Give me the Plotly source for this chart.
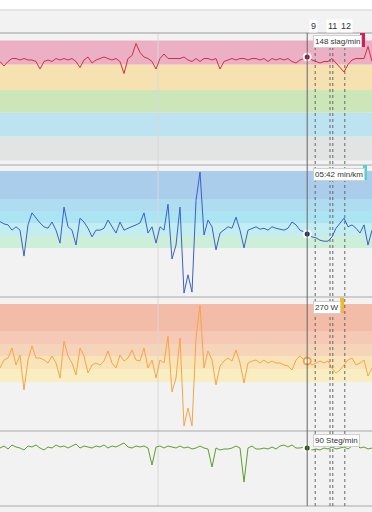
import plotly.graph_objects as go

FIG_W, FIG_H = 372, 512
SAMPLE_MIN = 0.5          # minutes between samples
X_MAX = 46.5              # minutes shown

# ---------------- data ----------------
hr_bpm = [145, 142, 145, 147, 147, 146, 147, 146, 146, 145,
          140, 145, 146, 145, 147, 146, 147, 146, 147, 145,
          141, 146, 148, 144, 146, 147, 148, 147, 146, 147,
          145, 137, 147, 149, 157, 151, 148, 147, 145, 140,
          147, 150, 147, 147, 147, 147, 148, 146, 145, 147,
          145, 147, 147, 146, 147, 140, 145, 146, 147, 146,
          147, 147, 146, 147, 147, 146, 147, 145, 147, 146,
          147, 146, 147, 145, 144, 146, 147, 148, 146, 145,
          144, 145, 145, 147, 144, 141, 138, 143, 146, 147,
          147, 147, 155, 145]

pace_min_km = [5.44, 5.49, 5.51, 5.62, 5.55, 5.62, 6.16, 5.51, 5.26, 5.37,
               5.47, 5.55, 5.58, 5.45, 5.62, 5.89, 5.14, 5.55, 5.62, 5.93,
               5.37, 5.45, 5.58, 5.76, 5.62, 5.62, 5.58, 5.41, 5.55, 5.68,
               5.45, 5.62, 5.58, 5.55, 5.51, 5.47, 5.26, 5.68, 5.55, 5.89,
               5.55, 5.62, 5.08, 6.22, 5.93, 5.14, 6.93, 6.55, 6.91, 5.00,
               4.41, 5.72, 5.41, 5.55, 6.03, 5.68, 5.62, 5.55, 5.58, 5.35,
               5.62, 5.99, 5.62, 5.58, 5.55, 5.60, 5.58, 5.62, 5.55, 5.58,
               5.60, 5.62, 5.58, 5.45, 5.51, 5.62, 5.66, 5.72, 5.76, 5.78,
               5.83, 5.85, 5.85, 5.76, 5.58, 5.47, 5.37, 5.55, 5.51, 5.58,
               5.68, 5.51, 5.93, 5.62]

power_w = [256, 272, 276, 296, 262, 282, 212, 272, 300, 276,
           276, 272, 266, 280, 266, 236, 310, 280, 266, 242,
           296, 280, 246, 262, 266, 262, 270, 290, 266, 256,
           282, 270, 276, 292, 272, 270, 296, 256, 272, 236,
           272, 266, 320, 208, 236, 316, 140, 176, 140, 316,
           382, 256, 290, 272, 222, 260, 270, 276, 270, 292,
           266, 226, 266, 270, 272, 266, 272, 266, 270, 266,
           266, 262, 260, 252, 272, 280, 272, 270, 262, 266,
           270, 266, 270, 256, 246, 252, 262, 272, 276, 262,
           266, 272, 240, 256]

cadence_spm = [90, 92, 89, 93, 91, 90, 88, 92, 91, 93,
               90, 88, 91, 90, 93, 91, 92, 90, 92, 94,
               90, 92, 91, 90, 92, 91, 93, 90, 92, 91,
               93, 95, 91, 90, 92, 91, 92, 90, 73, 91,
               92, 90, 92, 91, 90, 92, 90, 91, 89, 90,
               92, 90, 89, 71, 90, 88, 89, 89, 90, 92,
               90, 56, 90, 92, 89, 89, 90, 89, 91, 89,
               92, 93, 91, 93, 90, 90, 91, 90, 88, 89,
               88, 90, 89, 91, 89, 90, 91, 89, 92, 94,
               90, 91, 89, 90]

time_min = [i * SAMPLE_MIN for i in range(len(hr_bpm))]

# zones (edges low -> high) and colours
hr_zone_edges = [79, 95, 111, 126, 143, 159]
hr_zone_colors = ["#E2E3E3", "#BEE3F0", "#CDE6B9", "#F6E1B1", "#EBB0C4"]
pace_zone_edges = [5.99, 5.74, 5.47, 5.22, 4.97, 4.39]
pace_zone_colors = ["#CDEED8", "#C3EDF0", "#ABE5F4", "#AFDCF0", "#AACDEB"]
power_zone_edges = [228, 254, 280, 304, 330, 384]
power_zone_colors = ["#F8EEC2", "#F8E4B8", "#F6D4BA", "#F5C9B5", "#F2BCA9"]

# cursor and laps
cursor_t = 38.4
cursor_hr, cursor_pace, cursor_power, cursor_cad = 148, 5.7, 270, 90
cursor_labels = ["148 slag/min", "05:42 min/km", "270 W", "90 Steg/min"]
lap_times = [39.4, 41.25, 41.6, 43.1]
lap_numbers = [9, 10, 11, 12]
lap_labels_shown = [9, 11, 12]
grid_t = 19.75

# ---------------- layout helpers ----------------
def py(px):
    return 1 - px / FIG_H

def px_t(px):
    return px / FIG_W * X_MAX

panels = {
    "y":  dict(top=33,  bot=165, rng=[76, 164]),
    "y2": dict(top=165, bot=297, rng=[7.0125, 4.2625]),
    "y3": dict(top=298, bot=431, rng=[130, 396]),
    "y4": dict(top=431, bot=506, rng=[32, 107]),
}

fig = go.Figure()

line_cfg = [
    ("y", hr_bpm, "#CF2E4A", cursor_hr, "#9B1030", "white"),
    ("y2", pace_min_km, "#3B5FC8", cursor_pace, "#1A2A70", "white"),
    ("y3", power_w, "#F5A547", cursor_power, "white", "#F5A547"),
    ("y4", cadence_spm, "#5E9E2E", cursor_cad, "#2E5A12", "white"),
]
for yref, vals, col, cval, mcol, mline in line_cfg:
    fig.add_trace(go.Scatter(
        x=time_min, y=vals, mode="lines", xaxis="x", yaxis=yref,
        line=dict(color=col, width=1),
        hoverinfo="skip", showlegend=False))

shapes = []
# light gray background
shapes.append(dict(type="rect", xref="paper", yref="paper", x0=0, x1=1,
                   y0=0, y1=py(10), fillcolor="#F2F2F2", line_width=0, layer="below"))

def zone_shapes(yref, edges, colors):
    out = []
    for lo, hi, c in zip(edges[:-1], edges[1:], colors):
        out.append(dict(type="rect", xref="paper", yref=yref, x0=0, x1=1,
                        y0=lo, y1=hi, fillcolor=c, line_width=0, layer="below"))
    return out

shapes += zone_shapes("y", hr_zone_edges, hr_zone_colors)
shapes += zone_shapes("y2", pace_zone_edges, pace_zone_colors)
shapes += zone_shapes("y3", power_zone_edges, power_zone_colors)

# horizontal separators
for ypx, col in [(10, "#D0D0D0"), (33, "#9A9A9A"), (165, "#A8A8A8"),
                 (297, "#A8A8A8"), (431, "#A8A8A8"), (506, "#A8A8A8")]:
    shapes.append(dict(type="line", xref="paper", yref="paper", x0=0, x1=1,
                       y0=py(ypx), y1=py(ypx), line=dict(color=col, width=1)))

# faint grid line
shapes.append(dict(type="line", xref="x", yref="paper", x0=grid_t, x1=grid_t,
                   y0=py(506), y1=py(33), line=dict(color="#D8D8D8", width=1),
                   layer="below"))
# lap lines
for t in lap_times:
    shapes.append(dict(type="line", xref="x", yref="paper", x0=t, x1=t,
                       y0=py(506), y1=py(33), line=dict(color="#666", width=1, dash="dot")))
# cursor line
shapes.append(dict(type="line", xref="x", yref="paper", x0=cursor_t, x1=cursor_t,
                   y0=py(506), y1=py(33), line=dict(color="#666", width=1)))

# cursor markers
for yref, vals, col, cval, mcol, mline in line_cfg:
    fig.add_trace(go.Scatter(
        x=[cursor_t], y=[cval], mode="markers", xaxis="x", yaxis=yref,
        marker=dict(size=7, color=mcol, line=dict(color=mline, width=2)),
        hoverinfo="skip", showlegend=False, cliponaxis=False))

annotations = []
# lap labels
lap_label_offset = {9: -0.2, 11: 0.0, 12: 0.1}
for n, t in zip(lap_numbers, lap_times):
    if n in lap_labels_shown:
        annotations.append(dict(x=t + lap_label_offset[n], xref="x", y=py(26), yref="paper",
                                yanchor="middle", text=str(n), showarrow=False,
                                font=dict(size=9, color="#333", family="Arial"),
                                bgcolor="white", borderpad=1))

# tooltips
tip_pos = [(41.5, (33, 47), (360, 365), "#D81B5A"),
           (174, (165, 180), (363, 367), "#4DD2D6"),
           (307, (298, 313), (340, 344), "#F5B922"),
           (440, None, None, None)]
for label, (cy, rect_y, rect_x, rcol) in zip(cursor_labels, tip_pos):
    annotations.append(dict(x=px_t(313), xref="x", xanchor="left", y=py(cy), yref="paper",
                            yanchor="middle", text=label, showarrow=False,
                            font=dict(size=8, color="#333", family="Arial"),
                            bgcolor="white", bordercolor="#D0D0D0", borderwidth=1,
                            borderpad=1))
    if rect_y:
        shapes.append(dict(type="rect", xref="x", yref="paper",
                           x0=px_t(rect_x[0]), x1=px_t(rect_x[1]),
                           y0=py(rect_y[1]), y1=py(rect_y[0]),
                           fillcolor=rcol, line_width=0, layer="above"))

layout = dict(
    width=FIG_W, height=FIG_H, margin=dict(l=0, r=0, t=0, b=0),
    paper_bgcolor="white", plot_bgcolor="rgba(0,0,0,0)",
    showlegend=False, shapes=shapes, annotations=annotations,
    xaxis=dict(range=[0, X_MAX], visible=False, anchor="y4"),
)
for key, p in panels.items():
    name = "yaxis" if key == "y" else "yaxis" + key[1:]
    layout[name] = dict(domain=[py(p["bot"]), py(p["top"])], range=p["rng"],
                        visible=False, anchor="x")
fig.update_layout(**layout)

fig.write_html("out.html", config={"displayModeBar": False},
               post_script="document.body.style.margin='0';")
